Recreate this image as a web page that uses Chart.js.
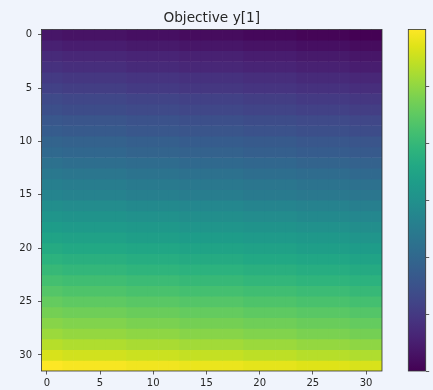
<!DOCTYPE html>
<html>
<head>
<meta charset="utf-8">
<script src="https://cdn.jsdelivr.net/npm/chart.js@4.4.0/dist/chart.umd.min.js"></script>
<style>
  html, body { margin: 0; padding: 0; background: #f0f4fc; }
  #wrap { position: relative; width: 433px; height: 390px; }
  #heat { position: absolute; left: 0; top: 0; }
  #cbar { position: absolute; left: 395px; top: 0; }
</style>
</head>
<body>
<div id="wrap">
  <canvas id="heat" width="433" height="390"></canvas>
  <canvas id="cbar" width="38" height="390"></canvas>
</div>
<script>
// values of the grid, row 0 at the top (0..100 colour scale)
const values = [
  [6,6,5,5,5,5,5,5,4,4,4,4,4,3,3,3,3,3,3,2,2,2,2,2,1,1,1,1,1,0,0,0],
  [9,9,8,8,8,8,8,8,7,7,7,7,7,6,6,6,6,6,6,5,5,5,5,5,4,4,4,4,4,3,3,3],
  [12,12,11,11,11,11,11,11,10,10,10,10,10,9,9,9,9,9,9,8,8,8,8,8,7,7,7,7,7,6,6,6],
  [14,14,13,13,13,13,13,13,12,12,12,12,12,11,11,11,11,11,11,10,10,10,10,10,9,9,9,9,9,8,8,8],
  [17,17,16,16,16,16,16,16,15,15,15,15,15,14,14,14,14,14,14,13,13,13,13,13,12,12,12,12,12,11,11,11],
  [19,19,18,18,18,18,18,18,17,17,17,17,17,16,16,16,16,16,16,15,15,15,15,15,14,14,14,14,14,13,13,13],
  [22,22,21,21,21,21,21,21,20,20,20,20,20,19,19,19,19,19,19,18,18,18,18,18,17,17,17,17,17,16,16,16],
  [24,24,23,23,23,23,23,23,22,22,22,22,22,21,21,21,21,21,21,20,20,20,20,20,19,19,19,19,19,18,18,18],
  [27,27,26,26,26,26,26,26,25,25,25,25,25,24,24,24,24,24,24,23,23,23,23,23,22,22,22,22,22,21,21,21],
  [29,29,28,28,28,28,28,28,27,27,27,27,27,26,26,26,26,26,26,25,25,25,25,25,24,24,24,24,24,23,23,23],
  [32,32,31,31,31,31,31,31,30,30,30,30,30,29,29,29,29,29,29,28,28,28,28,28,27,27,27,27,27,26,26,26],
  [34,34,33,33,33,33,33,33,32,32,32,32,32,31,31,31,31,31,31,30,30,30,30,30,29,29,29,29,29,28,28,28],
  [37,37,36,36,36,36,36,36,35,35,35,35,35,34,34,34,34,34,34,33,33,33,33,33,32,32,32,32,32,31,31,31],
  [40,40,39,39,39,39,39,39,38,38,38,38,38,37,37,37,37,37,37,36,36,36,36,36,35,35,35,35,35,34,34,34],
  [43,43,42,42,42,42,42,42,41,41,41,41,41,40,40,40,40,40,40,39,39,39,39,39,38,38,38,38,38,37,37,37],
  [45,45,44,44,44,44,44,44,43,43,43,43,43,42,42,42,42,42,42,41,41,41,41,41,40,40,40,40,40,39,39,39],
  [49,49,48,48,48,48,48,48,47,47,47,47,47,46,46,46,46,46,46,45,45,45,45,45,44,44,44,44,44,43,43,43],
  [52,52,51,51,51,51,51,51,50,50,50,50,50,49,49,49,49,49,49,48,48,48,48,48,47,47,47,47,47,46,46,46],
  [55,55,54,54,54,54,54,54,53,53,53,53,53,52,52,52,52,52,52,51,51,51,51,51,50,50,50,50,50,49,49,49],
  [58,58,57,57,57,57,57,57,56,56,56,56,56,55,55,55,55,55,55,54,54,54,54,54,53,53,53,53,53,52,52,52],
  [61,61,60,60,60,60,60,60,59,59,59,59,59,58,58,58,58,58,58,57,57,57,57,57,56,56,56,56,56,55,55,55],
  [64,64,63,63,63,63,63,63,62,62,62,62,62,61,61,61,61,61,61,60,60,60,60,60,59,59,59,59,59,58,58,58],
  [67,67,66,66,66,66,66,66,65,65,65,65,65,64,64,64,64,64,64,63,63,63,63,63,62,62,62,62,62,61,61,61],
  [70,70,69,69,69,69,69,69,68,68,68,68,68,67,67,67,67,67,67,66,66,66,66,66,65,65,65,65,65,64,64,64],
  [73,73,72,72,72,72,72,72,71,71,71,71,71,70,70,70,70,70,70,69,69,69,69,69,68,68,68,68,68,67,67,67],
  [76,76,75,75,75,75,75,75,74,74,74,74,74,73,73,73,73,73,73,72,72,72,72,72,71,71,71,71,71,70,70,70],
  [79,79,78,78,78,78,78,78,77,77,77,77,77,76,76,76,76,76,76,75,75,75,75,75,74,74,74,74,74,73,73,73],
  [82,82,81,81,81,81,81,81,80,80,80,80,80,79,79,79,79,79,79,78,78,78,78,78,77,77,77,77,77,76,76,76],
  [85,85,84,84,84,84,84,84,83,83,83,83,83,82,82,82,82,82,82,81,81,81,81,81,80,80,80,80,80,79,79,79],
  [89,89,88,88,88,88,88,88,87,87,87,87,87,86,86,86,86,86,86,85,85,85,85,85,84,84,84,84,84,83,83,83],
  [94,94,93,93,93,93,93,93,92,92,92,92,92,91,91,91,91,91,91,90,90,90,90,90,89,89,89,89,89,88,88,88],
  [100,100,99,99,99,99,99,99,98,98,98,98,98,97,97,97,97,97,97,96,96,96,96,96,95,95,95,95,95,94,94,94]
];
const xTicks = [0, 5, 10, 15, 20, 25, 30];
const yTicks = [0, 5, 10, 15, 20, 25, 30];
const cbTicks = [0, 16.6, 33.3, 50, 66.6, 83.3];
const vmin = 0;
const vmax = 100;
const title = 'Objective y[1]';

// viridis colour stops, 0 .. 1 in steps of 0.05
const viridisStops = ['#440154','#471365','#482475','#463480','#414487','#3b528b','#355f8d','#2f6c8e','#2a788e','#25848e',
  '#21918c','#1e9c89','#22a884','#2fb47c','#44bf70','#5ec962','#7ad151','#9bd93c','#bddf26','#dfe318','#fde725'];

function hexToRgb(h) {
  return [parseInt(h.slice(1, 3), 16), parseInt(h.slice(3, 5), 16), parseInt(h.slice(5, 7), 16)];
}
const stopsRgb = viridisStops.map(hexToRgb);

function viridis(v) {
  let t = (v - vmin) / (vmax - vmin);
  t = Math.max(0, Math.min(1, t));
  const pos = t * (stopsRgb.length - 1);
  const i = Math.min(Math.floor(pos), stopsRgb.length - 2);
  const f = pos - i;
  const a = stopsRgb[i], b = stopsRgb[i + 1];
  const c = a.map((x, k) => Math.round(x + (b[k] - x) * f));
  return 'rgb(' + c.join(',') + ')';
}

const font = { family: 'DejaVu Sans', size: 10 };
const textColor = '#262626';
const lineColor = '#333333';

// outline round the plot area, like the axes spines
const frame = {
  id: 'frame',
  afterDatasetsDraw(chart) {
    const { ctx, chartArea: a } = chart;
    ctx.save();
    ctx.strokeStyle = lineColor;
    ctx.lineWidth = 0.8;
    ctx.strokeRect(a.left, a.top, a.right - a.left, a.bottom - a.top);
    ctx.restore();
  }
};

// one dataset per row, one floating bar per cell
const datasets = values.map((row, r) => ({
  data: row.map((v, c) => ({ x: c, y: [r - 0.5, r + 0.5] })),
  backgroundColor: row.map(v => viridis(v)),
  borderWidth: 0,
  barPercentage: 1,
  categoryPercentage: 1,
  grouped: false
}));

new Chart(document.getElementById('heat'), {
  type: 'bar',
  data: { datasets },
  options: {
    responsive: false,
    animation: false,
    layout: { padding: { left: 0, right: 51, top: 0, bottom: 0 } },
    plugins: {
      legend: { display: false },
      tooltip: { enabled: false },
      title: {
        display: true,
        text: title,
        fullSize: false,
        color: textColor,
        font: { family: 'DejaVu Sans', size: 13.7, weight: 'normal' },
        padding: { top: 10.3, bottom: 2.7 }
      }
    },
    scales: {
      x: {
        type: 'linear',
        min: -0.5,
        max: 31.5,
        offset: false,
        grid: { drawOnChartArea: false, offset: false, tickLength: 3.5, color: lineColor, lineWidth: 0.8 },
        border: { display: false },
        ticks: { font, color: textColor, padding: 3, maxRotation: 0, autoSkip: false },
        afterBuildTicks: s => { s.ticks = xTicks.map(v => ({ value: v })); },
        afterFit: s => { s.height = 19; }
      },
      y: {
        type: 'linear',
        reverse: true,
        min: -0.5,
        max: 31.5,
        grid: { drawOnChartArea: false, tickLength: 3.5, color: lineColor, lineWidth: 0.8 },
        border: { display: false },
        ticks: { font, color: textColor, padding: 6, autoSkip: false },
        afterBuildTicks: s => { s.ticks = yTicks.map(v => ({ value: v })); },
        afterFit: s => { s.width = 41.5; }
      }
    }
  },
  plugins: [frame]
});

// colour bar
const gradientBar = {
  id: 'gradientBar',
  beforeDatasetsDraw(chart) {
    const { ctx, chartArea: a } = chart;
    const ys = chart.scales.y;
    const yTop = ys.getPixelForValue(vmax);
    const yBot = ys.getPixelForValue(vmin);
    const g = ctx.createLinearGradient(0, yBot, 0, yTop);
    viridisStops.forEach((h, i) => g.addColorStop(i / (viridisStops.length - 1), h));
    ctx.save();
    ctx.fillStyle = g;
    ctx.fillRect(a.left, yTop, a.right - a.left, yBot - yTop);
    ctx.strokeStyle = lineColor;
    ctx.lineWidth = 0.8;
    ctx.strokeRect(a.left, yTop, a.right - a.left, yBot - yTop);
    ctx.restore();
  }
};

new Chart(document.getElementById('cbar'), {
  type: 'bar',
  data: { labels: [''], datasets: [] },
  options: {
    responsive: false,
    animation: false,
    layout: { padding: { left: 13.3, right: 0, top: 29.4, bottom: 19 } },
    plugins: { legend: { display: false }, tooltip: { enabled: false } },
    scales: {
      x: { display: false },
      y: {
        position: 'right',
        min: vmin,
        max: vmax,
        grid: { drawOnChartArea: false, tickLength: 3.5, color: lineColor, lineWidth: 0.8 },
        border: { display: false },
        ticks: { display: false },
        afterBuildTicks: s => { s.ticks = cbTicks.map(v => ({ value: v })); },
        afterFit: s => { s.width = 7.3; }
      }
    }
  },
  plugins: [gradientBar]
});
</script>
</body>
</html>
